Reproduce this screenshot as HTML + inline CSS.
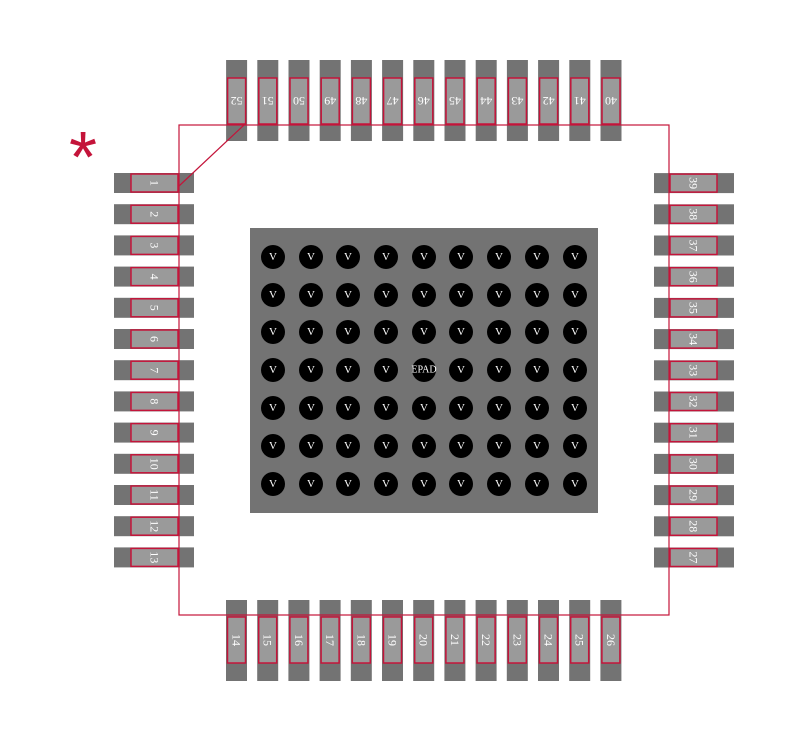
<!DOCTYPE html>
<html><head><meta charset="utf-8"><style>
body{margin:0;background:#fff;}
</style></head><body>
<svg width="800" height="741" xmlns="http://www.w3.org/2000/svg" font-family="Liberation Serif, serif">
<g id="g"></g>
</svg>
<script>
const g=document.getElementById('g');let s='';
const R='#c4143a';
function pad(dx,dy,dw,dh,ix,iy,iw,ih,t,rot){
 s+=`<rect x="${dx}" y="${dy}" width="${dw}" height="${dh}" fill="#737373"/>`;
 s+=`<rect x="${ix}" y="${iy}" width="${iw}" height="${ih}" fill="#9a9a9a" stroke="${R}" stroke-width="1.5"/>`;
 const cx=ix+iw/2,cy=iy+ih/2;
 s+=`<text x="${cx}" y="${cy}" fill="#fff" font-size="12" text-anchor="middle" dominant-baseline="central" transform="rotate(${rot} ${cx} ${cy})">${t}</text>`;
}
const p=31.2;
for(let i=0;i<13;i++){
 let y=183+i*p; pad(114,y-10,80,20,131,y-9,47,18,i+1,90);
 let x=236.5+i*p; pad(x-10.5,600,21,81,x-9,617,18,46,14+i,90);
 let y2=557.5-i*p; pad(654,y2-10,80,20,670,y2-9,47,18,27+i,90);
 let x2=611-i*p; pad(x2-10.5,60,21,81,x2-9,78,18,46,40+i,180);
}
s+=`<rect x="179" y="125" width="490" height="490" fill="none" stroke="${R}" stroke-width="1.2"/>`;
s+=`<line x1="179" y1="186" x2="244" y2="125" stroke="${R}" stroke-width="1.2"/>`;
s+=`<rect x="250" y="228" width="348" height="285" fill="#737373"/>`;
const xs=[273,311,348,386,424,461,499,537,575],ys=[257,295,332,370,408,446,484];
ys.forEach((y,r)=>xs.forEach((x,c)=>{
 s+=`<circle cx="${x}" cy="${y}" r="12" fill="#000"/>`;
 const t=(r==3&&c==4)?'EPAD':'V';
 s+=`<text x="${x}" y="${y}" fill="#fff" font-size="${t=='V'?11:10}" text-anchor="middle" dominant-baseline="central">${t}</text>`;
}));
s+=`<text x="83" y="182" fill="${R}" font-size="72" font-family="Liberation Sans, sans-serif" text-anchor="middle">*</text>`;
g.innerHTML=s;
</script>
</body></html>
